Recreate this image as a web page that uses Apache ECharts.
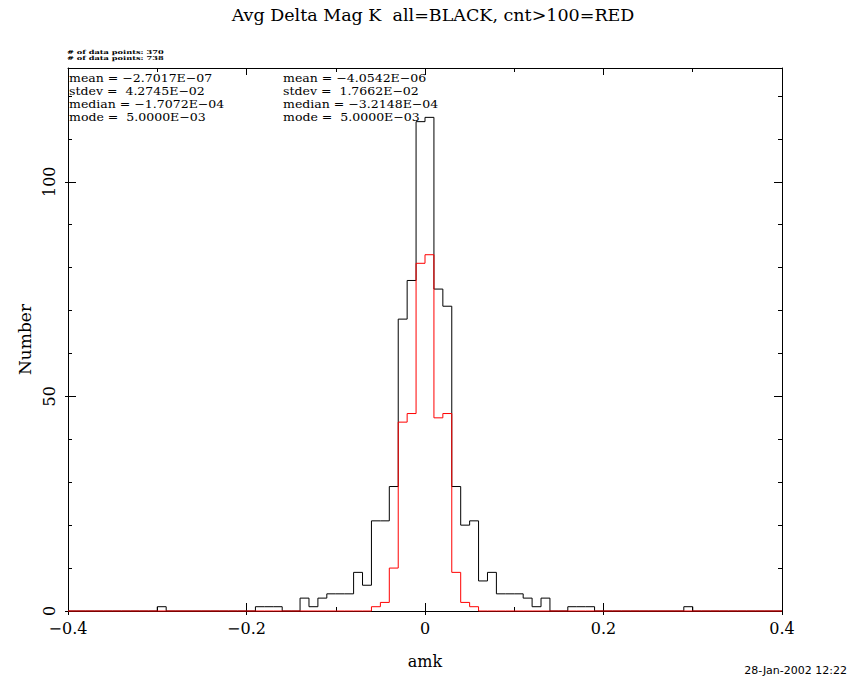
<!DOCTYPE html>
<html>
<head>
<meta charset="utf-8">
<script src="https://cdn.jsdelivr.net/npm/echarts@6/dist/echarts.min.js"></script>
<style>
  html, body { margin: 0; padding: 0; background: #fff; }
  #chart { width: 850px; height: 680px; }
</style>
</head>
<body>
<div id="chart"></div>
<script>
// ---- data ----
const binStart = -0.40;
const binWidth = 0.01;
// all stars (black), bins from -0.40 to 0.40 step 0.01
const allCounts = [
  0,0,0,0,0,0,0,0,0,0,
  1,
  0,0,0,0,0,0,0,0,0,0,
  1,1,1,
  0,0,
  3,1,3,4,4,4,9,6,21,21,29,68,77,114,
  115,75,71,29,20,21,7,9,4,4,4,3,1,3,
  0,0,
  1,1,1,
  0,0,0,0,0,0,0,0,0,0,
  1,
  0,0,0,0,0,0,0,0,0,0
];
// cnt>100 (red)
const cntCounts = [
  0,0,0,0,0,0,0,0,0,0,
  0,0,0,0,0,0,0,0,0,0,
  0,0,0,0,0,0,0,0,0,0,
  0,0,0,0,
  1,2,10,44,46,81,
  83,45,46,9,2,1,
  0,0,0,0,0,0,0,0,0,0,
  0,0,0,0,0,0,0,0,0,0,
  0,0,0,0,0,0,0,0,0,0,
  0,0,0,0
];
const yMajorTicks = [0, 50, 100];
const yMinorTicks = [10, 20, 30, 40, 60, 70, 80, 90, 110, 120];
const yMax = 126.5;
const titleText = 'Avg Delta Mag K  all=BLACK, cnt>100=RED';
const xName = 'amk';
const yName = 'Number';
const pointCounts = ['# of data points: 370', '# of data points: 738'];
const statsAll = ['mean = \u22122.7017E\u221207', 'stdev =  4.2745E\u221202', 'median = \u22121.7072E\u221204', 'mode =  5.0000E\u221203'];
const statsCnt = ['mean = \u22124.0542E\u221206', 'stdev =  1.7662E\u221202', 'median = \u22123.2148E\u221204', 'mode =  5.0000E\u221203'];
const dateText = '28-Jan-2002 12:22';

function stepPoints(counts) {
  const pts = [];
  for (let i = 0; i < counts.length; i++) {
    pts.push([+(binStart + i * binWidth).toFixed(4), counts[i]]);
  }
  pts.push([+(binStart + counts.length * binWidth).toFixed(4), counts[counts.length - 1]]);
  return pts;
}

const SERIF = '"DejaVu Serif", "Liberation Serif", serif';
const minus = v => String(v).replace('-', '\u2212');
const lineStyle = { color: '#000', width: 1 };

const chart = echarts.init(document.getElementById('chart'), null, { renderer: 'svg' });

const graphics = [
  { type: 'text', x: 433, y: 15, style: { text: titleText, font: '17.5px ' + SERIF, fill: '#000', textAlign: 'center', textVerticalAlign: 'middle' } },
  { type: 'text', x: 67, y: 48.3, scaleX: 1.5, style: { text: pointCounts.join('\n'), font: 'bold 5.5px ' + SERIF, lineHeight: 6.5, fill: '#000', textVerticalAlign: 'top' } },
  { type: 'text', x: 847, y: 670, style: { text: dateText, font: '11px "DejaVu Sans", sans-serif', fill: '#000', textAlign: 'right', textVerticalAlign: 'middle' } },
  { type: 'text', x: 69, y: 72, scaleX: 1.14, style: { text: statsAll.join('\n'), font: '11px ' + SERIF, lineHeight: 13, fill: '#000', textVerticalAlign: 'top' } },
  { type: 'text', x: 283, y: 72, scaleX: 1.14, style: { text: statsCnt.join('\n'), font: '11px ' + SERIF, lineHeight: 13, fill: '#000', textVerticalAlign: 'top' } }
];

const grid = { left: 68, right: 68, top: 68, bottom: 69 };

chart.setOption({
  animation: false,
  backgroundColor: '#fff',
  grid: grid,
  graphic: graphics,
  xAxis: [
    {
      type: 'value', position: 'bottom', min: -0.4, max: 0.4, interval: 0.2,
      axisLine: { show: true, onZero: false, lineStyle: lineStyle },
      axisTick: { show: true, inside: true, length: 8, lineStyle: lineStyle },
      minorTick: { show: true, splitNumber: 2, length: 4, lineStyle: lineStyle },
      splitLine: { show: false }, minorSplitLine: { show: false },
      axisLabel: { show: true, margin: 9, color: '#000', fontFamily: SERIF, fontSize: 16, formatter: v => minus(v) },
      name: xName, nameLocation: 'middle', nameGap: 42,
      nameTextStyle: { color: '#000', fontFamily: SERIF, fontSize: 16 }
    },
    {
      type: 'value', position: 'bottom', min: -0.4, max: 0.4, interval: 0.2,
      axisLine: { show: false, onZero: false },
      axisTick: { show: true, inside: false, length: 4, lineStyle: lineStyle },
      splitLine: { show: false }, axisLabel: { show: false }
    },
    {
      type: 'value', position: 'top', min: -0.4, max: 0.4, interval: 0.2,
      axisLine: { show: true, onZero: false, lineStyle: lineStyle },
      axisTick: { show: true, inside: true, length: 7, lineStyle: lineStyle },
      minorTick: { show: true, splitNumber: 2, length: 4, lineStyle: lineStyle },
      splitLine: { show: false }, axisLabel: { show: false }
    }
  ],
  yAxis: [
    {
      type: 'value', position: 'left', min: 0, max: yMax,
      axisLine: { show: true, onZero: false, lineStyle: lineStyle },
      axisTick: { show: true, inside: true, length: 8, customValues: yMajorTicks, lineStyle: lineStyle },
      splitLine: { show: false },
      axisLabel: { show: true, customValues: yMajorTicks, rotate: 90, margin: 11, color: '#000', fontFamily: SERIF, fontSize: 16 },
      name: yName, nameLocation: 'middle', nameGap: 33, nameRotate: 90,
      nameTextStyle: { color: '#000', fontFamily: SERIF, fontSize: 17 }
    },
    {
      type: 'value', position: 'left', min: 0, max: yMax,
      axisLine: { show: false, onZero: false },
      axisTick: { show: true, inside: true, length: 4, customValues: yMinorTicks, lineStyle: lineStyle },
      splitLine: { show: false }, axisLabel: { show: false }
    },
    {
      type: 'value', position: 'left', min: 0, max: yMax,
      axisLine: { show: false, onZero: false },
      axisTick: { show: true, inside: false, length: 3, customValues: yMajorTicks, lineStyle: lineStyle },
      splitLine: { show: false }, axisLabel: { show: false }
    },
    {
      type: 'value', position: 'right', min: 0, max: yMax,
      axisLine: { show: true, onZero: false, lineStyle: lineStyle },
      axisTick: { show: true, inside: true, length: 8, customValues: yMajorTicks, lineStyle: lineStyle },
      splitLine: { show: false }, axisLabel: { show: false }
    },
    {
      type: 'value', position: 'right', min: 0, max: yMax,
      axisLine: { show: false, onZero: false },
      axisTick: { show: true, inside: true, length: 4, customValues: yMinorTicks, lineStyle: lineStyle },
      splitLine: { show: false }, axisLabel: { show: false }
    }
  ],
  series: [
    {
      name: 'all', type: 'line', step: 'end', xAxisIndex: 0, yAxisIndex: 0,
      data: stepPoints(allCounts), showSymbol: false, symbol: 'none', clip: false,
      lineStyle: { color: '#000', width: 1 }, z: 3
    },
    {
      name: 'cnt>100', type: 'line', step: 'end', xAxisIndex: 0, yAxisIndex: 0,
      data: stepPoints(cntCounts), showSymbol: false, symbol: 'none', clip: false,
      lineStyle: { color: '#ff0000', width: 1 }, z: 4
    }
  ]
});
</script>
</body>
</html>
